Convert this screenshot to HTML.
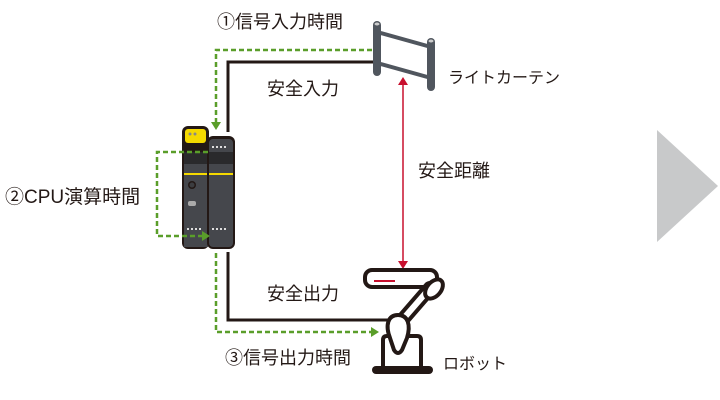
<!DOCTYPE html>
<html><head><meta charset="utf-8"><style>
html,body{margin:0;padding:0;background:#fff;}
svg{display:block}
text{font-family:"Liberation Sans","Noto Sans CJK JP",sans-serif;fill:#231815;font-size:18px}
</style></head><body>
<svg width="720" height="400" viewBox="0 0 720 400">
<polygon points="657,130 718,186 657,242" fill="#c8c9ca"/>
<polyline points="228,132 228,62 374,62" fill="none" stroke="#231815" stroke-width="3"/>
<polyline points="228,252 228,320 392,320" fill="none" stroke="#231815" stroke-width="3"/>
<polyline points="372,50 216,50 216,124" fill="none" stroke="#5a9e2a" stroke-width="2.5" stroke-dasharray="5,3"/>
<polyline points="216,253 216,332 372,332" fill="none" stroke="#5a9e2a" stroke-width="2.5" stroke-dasharray="5,3"/>
<polygon points="216,130 211,122 221,122" fill="#5a9e2a"/>
<polygon points="379,332 371,327 371,337" fill="#5a9e2a"/>
<rect x="182" y="126" width="27" height="123" rx="6" fill="#231815"/>
<rect x="185" y="129" width="21" height="14" rx="3" fill="#f5d900"/>
<circle cx="190" cy="134" r="1.5" fill="#888"/><circle cx="195" cy="134" r="1.5" fill="#888"/>
<rect x="184" y="152" width="24" height="95" fill="#45474c"/>
<rect x="184" y="152" width="24" height="12" fill="#2a2a2c"/>
<rect x="184" y="173" width="24" height="2" fill="#f5d900"/>
<circle cx="192" cy="185" r="4" fill="#231815"/><circle cx="192" cy="185" r="2.5" fill="#3c3d40"/>
<rect x="188" y="201" width="8" height="5" rx="2" fill="#aaa"/>
<rect x="207" y="136" width="28" height="113" rx="6" fill="#231815"/>
<rect x="209" y="139" width="24" height="108" rx="4" fill="#45474c"/>
<rect x="209" y="152" width="24" height="12" fill="#2a2a2c"/>
<rect x="209" y="173" width="24" height="2" fill="#f5d900"/>
<g fill="#ddd"><rect x="212" y="146" width="2" height="2"/><rect x="216" y="146" width="2" height="2"/><rect x="220" y="146" width="2" height="2"/><rect x="224" y="146" width="2" height="2"/><rect x="212" y="228" width="2" height="2"/><rect x="216" y="228" width="2" height="2"/><rect x="220" y="228" width="2" height="2"/><rect x="224" y="228" width="2" height="2"/><rect x="187" y="228" width="2" height="2"/><rect x="191" y="228" width="2" height="2"/><rect x="195" y="228" width="2" height="2"/><rect x="199" y="228" width="2" height="2"/></g>
<polyline points="208,152 157,152 157,236 202,236" fill="none" stroke="#5a9e2a" stroke-width="2.5" stroke-dasharray="5,3"/>
<polygon points="210,236 202,231 202,241" fill="#5a9e2a"/>
<line x1="377" y1="32" x2="431" y2="47" stroke="#50565e" stroke-width="4"/>
<line x1="377" y1="63" x2="431" y2="78" stroke="#50565e" stroke-width="4"/>
<line x1="377" y1="25" x2="377" y2="72" stroke="#50565e" stroke-width="8" stroke-linecap="round"/>
<line x1="431" y1="42" x2="431" y2="87" stroke="#50565e" stroke-width="8" stroke-linecap="round"/>
<ellipse cx="377" cy="24" rx="2.5" ry="1.5" fill="#ccc"/><ellipse cx="431" cy="41" rx="2.5" ry="1.5" fill="#ccc"/>
<line x1="403" y1="84" x2="403" y2="262" stroke="#c8102e" stroke-width="1.5"/>
<polygon points="403,77 398,85 408,85" fill="#c8102e"/>
<polygon points="403,269 398,261 408,261" fill="#c8102e"/>
<rect x="365" y="270" width="72" height="17" rx="7" fill="#fff" stroke="#231815" stroke-width="4"/>
<line x1="374" y1="281" x2="395" y2="281" stroke="#c8102e" stroke-width="2"/>
<path d="M404,318 L430,288" stroke="#231815" stroke-width="14" stroke-linecap="round"/>
<path d="M404,318 L430,288" stroke="#fff" stroke-width="6" stroke-linecap="round"/>
<ellipse cx="434" cy="289" rx="7" ry="11" transform="rotate(40 434 289)" fill="#fff" stroke="#231815" stroke-width="4"/>
<path d="M383,368 L383,340 Q383,336 387,336 L417,336 Q421,336 421,340 L421,368" fill="#fff" stroke="#231815" stroke-width="4"/>
<path d="M398,315 C388,315 385,325 390,338 L394,350 Q398,356 402,350 L407,338 C411,325 408,315 398,315 Z" fill="#fff" stroke="#231815" stroke-width="4"/>
<rect x="372" y="366" width="61" height="8" rx="4" fill="#231815"/>
<text x="217" y="28">①信号入力時間</text>
<text x="267" y="95">安全入力</text>
<text x="448" y="83" style="font-size:16px">ライトカーテン</text>
<text x="418" y="177">安全距離</text>
<text x="5" y="203" style="font-size:19px">②CPU演算時間</text>
<text x="267" y="300">安全出力</text>
<text x="225" y="364">③信号出力時間</text>
<text x="443" y="369" style="font-size:16px">ロボット</text>
</svg>
</body></html>
